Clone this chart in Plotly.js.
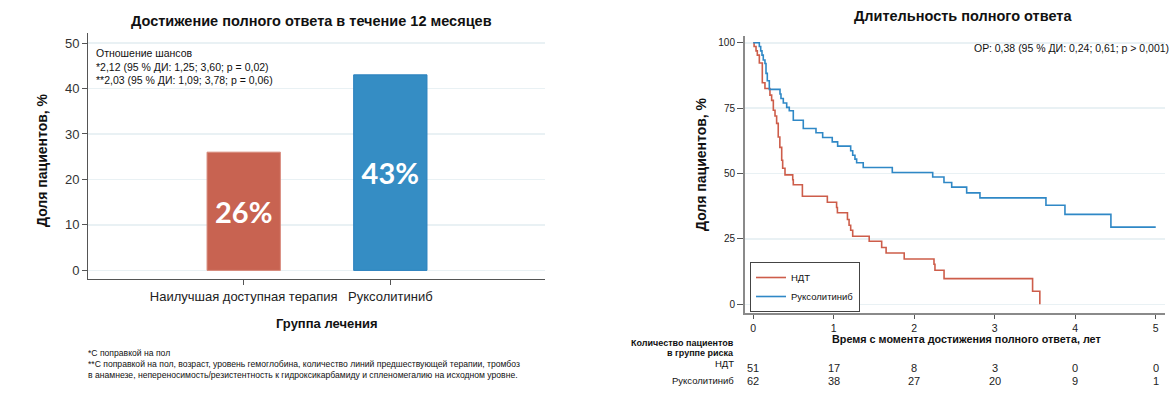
<!DOCTYPE html>
<html>
<head>
<meta charset="utf-8">
<script src="https://cdn.plot.ly/plotly-3.0.1.min.js"></script>
<style>html,body{margin:0;padding:0;background:#fff;}#chart{width:1173px;height:393px;}</style>
</head>
<body>
<div id="chart"></div>
<script>
// ---- Data: left chart (complete response within 12 months) ----
const groups = ['Наилучшая доступная терапия', 'Руксолитиниб'];
const responseRate = [26, 43];

// ---- Data: right chart (duration of complete response, Kaplan–Meier) ----
const ndtTime = [0, 0.01, 0.034, 0.05, 0.075, 0.112, 0.145, 0.207, 0.228, 0.249, 0.27, 0.29, 0.31, 0.33, 0.353, 0.365, 0.394, 0.49, 0.497, 0.61, 0.92, 1.035, 1.045, 1.17, 1.19, 1.21, 1.235, 1.44, 1.595, 1.65, 1.875, 2.245, 2.257, 2.37, 3.47, 3.56];
const ndtSurv = [100, 98.6, 96.9, 95.3, 92.3, 84.7, 82.5, 80, 78, 74.2, 72, 69.2, 64, 60, 55.1, 52, 49.5, 47.6, 45.7, 41.3, 39, 37, 35, 32.4, 30.2, 28.3, 26, 24.1, 21.7, 19.6, 17.3, 15.3, 13, 9.8, 5, 0];
const ruxTime = [0, 0.075, 0.092, 0.108, 0.124, 0.145, 0.158, 0.174, 0.199, 0.332, 0.344, 0.373, 0.415, 0.447, 0.497, 0.621, 0.779, 0.862, 0.981, 1.048, 1.21, 1.235, 1.263, 1.284, 1.366, 1.727, 2.229, 2.369, 2.465, 2.651, 2.816, 3.636, 3.872, 4.443, 5.0];
const ruxSurv = [100, 98.6, 96.9, 95.3, 93.4, 92.1, 88.3, 85.5, 82.2, 80.4, 78.7, 77, 75.3, 74, 70.4, 67.2, 65.6, 63.8, 62.1, 60.5, 58.7, 57, 55.5, 54.1, 52.3, 50.4, 48.7, 46.6, 44.8, 42.6, 40.7, 37.9, 34.4, 29.5, 29.5];

// ---- Risk table ----
const riskTimes = [0, 1, 2, 3, 4, 5];
const riskNdt = [51, 17, 8, 3, 0, 0];
const riskRux = [62, 38, 27, 20, 9, 1];

// ---- Texts ----
const leftTitle = 'Достижение полного ответа в течение 12 месяцев';
const rightTitle = 'Длительность полного ответа';
const yTitle = 'Доля пациентов, %';
const xTitleLeft = 'Группа лечения';
const xTitleRight = 'Время с момента достижения полного ответа, лет';
const oddsLines = ['Отношение шансов', '*2,12 (95 % ДИ: 1,25; 3,60; p = 0,02)', '**2,03 (95 % ДИ: 1,09; 3,78; p = 0,06)'];
const hrText = 'ОР: 0,38 (95 % ДИ: 0,24; 0,61; p > 0,001)';
const footnotes = ['*С поправкой на пол', '**С поправкой на пол, возраст, уровень гемоглобина, количество линий предшествующей терапии, тромбоз', 'в анамнезе, непереносимость/резистентность к гидроксикарбамиду и спленомегалию на исходном уровне.'];
const seriesNames = ['НДТ', 'Руксолитиниб'];

const W = 1173, H = 393;
const fx = x => x / W;
const fy = y => 1 - y / H;
const FONT = 'Liberation Sans, Arial, sans-serif';
const RED = '#cd5d4a', BLUE = '#2f88c6';

const traces = [
  {
    type: 'bar', x: groups, y: responseRate, xaxis: 'x', yaxis: 'y', width: 0.5,
    marker: {color: ['#c86351', '#358dc4'], line: {color: ['#d88a7c', '#2a80be'], width: 1}},
    texttemplate: '%{y}%', textposition: 'inside', insidetextanchor: 'middle', textangle: 0,
    textfont: {family: 'Lato, DejaVu Sans, sans-serif', size: 29, color: '#ffffff', weight: 700},
    showlegend: false, hoverinfo: 'skip'
  },
  {
    type: 'scatter', mode: 'lines', x: ndtTime, y: ndtSurv, xaxis: 'x2', yaxis: 'y2',
    line: {shape: 'hv', color: RED, width: 1.6}, name: seriesNames[0]
  },
  {
    type: 'scatter', mode: 'lines', x: ruxTime, y: ruxSurv, xaxis: 'x2', yaxis: 'y2',
    line: {shape: 'hv', color: BLUE, width: 1.6}, name: seriesNames[1]
  }
];

const annotations = [];
function txt(text, x, y, size, opts) {
  annotations.push(Object.assign({
    text: text, x: fx(x), y: fy(y), xref: 'paper', yref: 'paper', showarrow: false,
    xanchor: 'left', yanchor: 'middle', font: {family: FONT, size: size, color: '#111'}
  }, opts || {}));
}
// Titles
txt('<b>' + leftTitle + '</b>', 311, 21, 14.5, {xanchor: 'center'});
txt('<b>' + rightTitle + '</b>', 963, 16, 14.5, {xanchor: 'center'});
// Y titles
txt('<b>' + yTitle + '</b>', 42, 160, 14, {xanchor: 'center', textangle: -90});
txt('<b>' + yTitle + '</b>', 701, 164, 14, {xanchor: 'center', textangle: -90});
// X titles
txt('<b>' + xTitleLeft + '</b>', 327, 323, 13, {xanchor: 'center'});
txt('<b>' + xTitleRight + '</b>', 966, 338.5, 10.8, {xanchor: 'center'});
// Odds ratio text
oddsLines.forEach((t, i) => txt(t, 94, 53 + i * 13.5, 10.5));
// Hazard ratio
txt(hrText, 1171, 48, 10.5, {xanchor: 'right'});
// Footnotes
footnotes.forEach((t, i) => txt(t, 86, 352.5 + i * 11, 8.6));
// Risk table labels
txt('<b>Количество пациентов</b>', 736, 343, 9, {xanchor: 'right'});
txt('<b>в группе риска</b>', 736, 353, 9, {xanchor: 'right'});
txt(seriesNames[0], 736, 363, 9.5, {xanchor: 'right'});
txt(seriesNames[1], 736, 380, 9.5, {xanchor: 'right'});
riskTimes.forEach((t, i) => {
  annotations.push({text: String(riskNdt[i]), x: t, xref: 'x2', y: fy(368), yref: 'paper', showarrow: false,
    xanchor: 'center', yanchor: 'middle', font: {family: FONT, size: 11, color: '#222'}});
  annotations.push({text: String(riskRux[i]), x: t, xref: 'x2', y: fy(381), yref: 'paper', showarrow: false,
    xanchor: 'center', yanchor: 'middle', font: {family: FONT, size: 11, color: '#222'}});
});

const layout = {
  width: W, height: H,
  margin: {l: 0, r: 0, t: 0, b: 0},
  paper_bgcolor: '#ffffff', plot_bgcolor: '#ffffff',
  font: {family: FONT, color: '#222'},
  xaxis: {
    domain: [fx(88), fx(545)], anchor: 'y', type: 'category', range: [-1.062, 2.055],
    showline: true, linecolor: '#555', linewidth: 1, ticks: 'outside', ticklen: 5, tickcolor: '#555',
    tickfont: {size: 13, color: '#222'}, showgrid: false, zeroline: false, fixedrange: true
  },
  yaxis: {
    domain: [fy(279), fy(33)], anchor: 'x', range: [-1.89, 52.2],
    tickvals: [0, 10, 20, 30, 40, 50],
    showline: true, linecolor: '#555', linewidth: 1, ticks: 'outside', ticklen: 5, tickcolor: '#555',
    tickfont: {size: 13, color: '#333'}, showgrid: true, gridcolor: '#e9f1f4', gridwidth: 1.5, zeroline: false
  },
  xaxis2: {
    domain: [fx(745), fx(1165)], anchor: 'y2', range: [-0.103, 5.115],
    tickvals: [0, 1, 2, 3, 4, 5],
    showline: true, linecolor: '#8a8a8a', linewidth: 2, ticks: 'outside', ticklen: 4, tickcolor: '#555',
    tickfont: {size: 10.5, color: '#222'}, showgrid: false, zeroline: false
  },
  yaxis2: {
    domain: [fy(313), fy(36)], anchor: 'x2', range: [-3.33, 102.6],
    tickvals: [0, 25, 50, 75, 100],
    showline: true, linecolor: '#8a8a8a', linewidth: 2, ticks: 'outside', ticklen: 6, tickcolor: '#555',
    tickfont: {size: 10, color: '#222'}, showgrid: true, gridcolor: '#e9f1f4', gridwidth: 1.5, zeroline: false
  },
  showlegend: true,
  legend: {
    x: fx(750), y: fy(262), xanchor: 'left', yanchor: 'top', xref: 'paper', yref: 'paper',
    bgcolor: '#ffffff', bordercolor: '#444', borderwidth: 1,
    font: {family: FONT, size: 9.5, color: '#111'}, itemwidth: 30, tracegroupgap: 2
  },
  annotations: annotations
};

Plotly.newPlot('chart', traces, layout, {displayModeBar: false, staticPlot: true});
</script>
</body>
</html>
